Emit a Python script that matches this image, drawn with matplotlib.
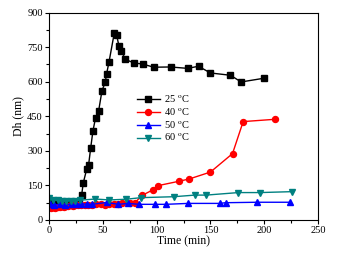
import matplotlib
matplotlib.use("Agg")
import matplotlib.pyplot as plt
from matplotlib.ticker import MultipleLocator

# 25 C
t25 = [3, 7, 11, 15, 19, 23, 26, 28, 30.3, 31.9, 35, 36.8, 38.7, 40.8, 43.3, 46.1,
       49.2, 52.3, 53.5, 55.7, 60.6, 62.8, 65, 67.1, 70.9, 79.2, 86.9, 97.2,
       112.9, 128.7, 138.9, 150, 168.6, 178.5, 199.6]
d25 = [72, 74, 75, 74, 76, 75, 78, 80, 108, 162, 220, 239, 311, 386, 444, 473,
       560, 599, 634, 684, 810, 803, 755, 735, 697, 681, 677, 663,
       664, 658, 667, 638, 628, 599, 615]

# 40 C
t40 = [0, 2, 4, 6, 8, 10, 12, 14, 16, 18, 20, 22, 24, 27, 30, 33, 36, 40, 44,
       48, 52, 56, 60, 64, 68, 75, 79.8, 86.6, 96.2, 101.2, 120.7, 130.3,
       150, 170.5, 180.4, 210]
d40 = [55, 52, 56, 54, 58, 57, 60, 58, 62, 60, 63, 62, 65, 64, 66, 63, 67, 65,
       68, 70, 67, 69, 71, 70, 72, 74, 75, 107, 130, 149, 168, 178,
       208, 288, 427, 437]

# 50 C
t50 = [0.9, 5, 10, 15, 20, 25, 30, 35, 40, 53.5, 64.4, 73.6, 83.5, 98.4,
       108.6, 129.3, 158.7, 164, 193.7, 224.3]
d50 = [68, 66, 68, 67, 69, 68, 70, 69, 68, 76, 68, 72, 68, 68,
       68, 72, 72, 75, 77, 77]

# 60 C
t60 = [0, 4, 8, 12, 16, 20, 24, 29, 43, 56, 71.5, 85.7, 116, 135.5, 146,
       176, 196, 226]
d60 = [97, 87, 85, 84, 84, 84, 84, 86, 91, 87, 90, 97, 101, 108, 108,
       119, 119, 123]

plt.rcParams['font.family'] = ['Liberation Serif', 'DejaVu Serif']
plt.rcParams['mathtext.fontset'] = 'stix'

fig = plt.figure(figsize=(3.45, 2.57), dpi=100)
ax = fig.add_axes([0.142, 0.144, 0.78, 0.807])

ax.plot(t25, d25, color='black', marker='s', ms=4.3, lw=1, label='25 $^\\mathrm{o}$C')
ax.plot(t40, d40, color='red', marker='o', ms=4.3, lw=1, label='40 $^\\mathrm{o}$C')
ax.plot(t50, d50, color='blue', marker='^', ms=4.3, lw=1, label='50 $^\\mathrm{o}$C')
ax.plot(t60, d60, color='#008080', marker='v', ms=4.3, lw=1, label='60 $^\\mathrm{o}$C')

ax.set_xlim(0, 250)
ax.set_ylim(0, 900)
ax.xaxis.set_major_locator(MultipleLocator(50))
ax.xaxis.set_minor_locator(MultipleLocator(25))
ax.yaxis.set_major_locator(MultipleLocator(150))
ax.yaxis.set_minor_locator(MultipleLocator(75))
ax.tick_params(which='both', direction='out', labelsize=7.5, width=0.8, pad=1.5)
ax.tick_params(which='major', length=3)
ax.tick_params(which='minor', length=2)
ax.set_xlabel('Time (min)', fontsize=8.5, labelpad=0)
ax.set_ylabel('Dh (nm)', fontsize=8.5, labelpad=2)

ax.legend(loc='upper left', bbox_to_anchor=(0.3, 0.645), frameon=False,
          fontsize=7.5, handlelength=2.2, labelspacing=0.12, borderpad=0.2,
          handletextpad=0.4)

fig.savefig('out.png', dpi=100)
